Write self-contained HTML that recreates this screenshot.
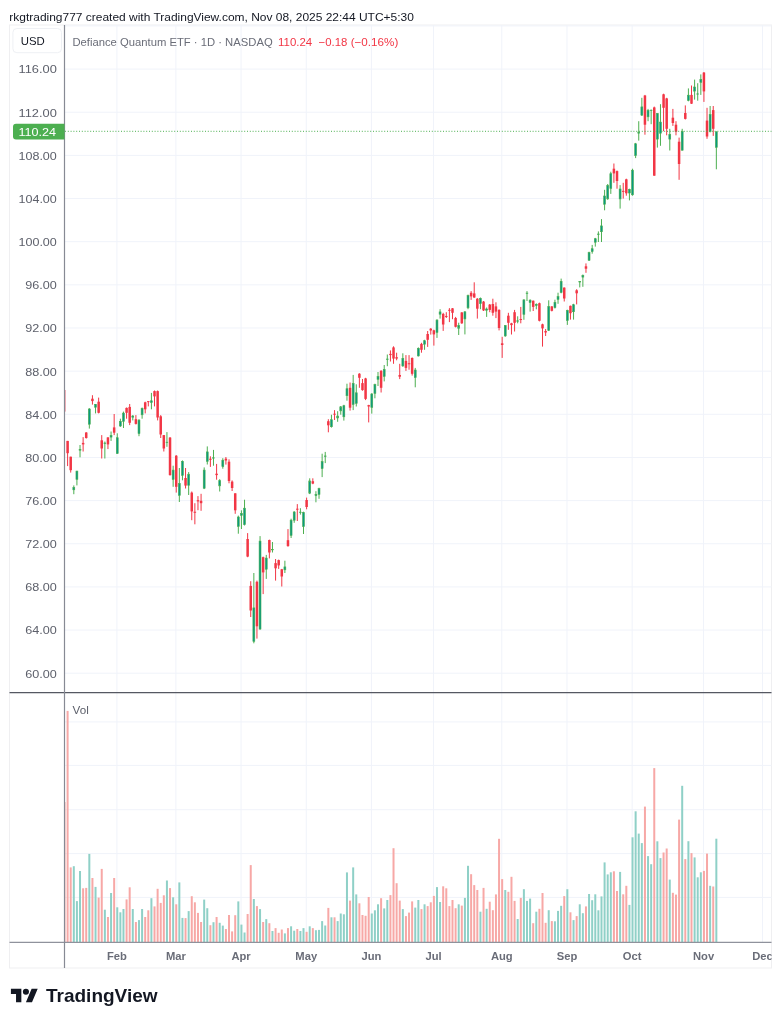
<!DOCTYPE html>
<html><head><meta charset="utf-8"><title>QTUM chart</title>
<style>
html,body{margin:0;padding:0;background:#fff;}
body{width:781px;height:1024px;overflow:hidden;}
svg{display:block;}
text{font-family:"Liberation Sans",Arial,sans-serif;}
</style></head><body>
<svg width="781" height="1024" viewBox="0 0 781 1024">
<defs><clipPath id="pp"><rect x="65" y="25" width="706.5" height="667.7"/></clipPath><clipPath id="vp"><rect x="65" y="692.7" width="706.5" height="249.7"/></clipPath></defs>
<text x="9.3" y="20.6" font-size="11.6" textLength="404.5" lengthAdjust="spacingAndGlyphs" fill="#131722">rkgtrading777 created with TradingView.com, Nov 08, 2025 22:44 UTC+5:30</text>
<rect x="9.5" y="25" width="762" height="943" fill="none" stroke="#efeff1" stroke-width="1"/>
<line x1="64.5" x2="771.5" y1="25.9" y2="25.9" stroke="#f0f3fa" stroke-width="1"/>
<line x1="64.5" x2="771.5" y1="69.07" y2="69.07" stroke="#f0f3fa" stroke-width="1"/>
<line x1="64.5" x2="771.5" y1="112.22" y2="112.22" stroke="#f0f3fa" stroke-width="1"/>
<line x1="64.5" x2="771.5" y1="155.38" y2="155.38" stroke="#f0f3fa" stroke-width="1"/>
<line x1="64.5" x2="771.5" y1="198.53" y2="198.53" stroke="#f0f3fa" stroke-width="1"/>
<line x1="64.5" x2="771.5" y1="241.68" y2="241.68" stroke="#f0f3fa" stroke-width="1"/>
<line x1="64.5" x2="771.5" y1="284.83" y2="284.83" stroke="#f0f3fa" stroke-width="1"/>
<line x1="64.5" x2="771.5" y1="327.98" y2="327.98" stroke="#f0f3fa" stroke-width="1"/>
<line x1="64.5" x2="771.5" y1="371.14" y2="371.14" stroke="#f0f3fa" stroke-width="1"/>
<line x1="64.5" x2="771.5" y1="414.29" y2="414.29" stroke="#f0f3fa" stroke-width="1"/>
<line x1="64.5" x2="771.5" y1="457.44" y2="457.44" stroke="#f0f3fa" stroke-width="1"/>
<line x1="64.5" x2="771.5" y1="500.59" y2="500.59" stroke="#f0f3fa" stroke-width="1"/>
<line x1="64.5" x2="771.5" y1="543.74" y2="543.74" stroke="#f0f3fa" stroke-width="1"/>
<line x1="64.5" x2="771.5" y1="586.9" y2="586.9" stroke="#f0f3fa" stroke-width="1"/>
<line x1="64.5" x2="771.5" y1="630.05" y2="630.05" stroke="#f0f3fa" stroke-width="1"/>
<line x1="64.5" x2="771.5" y1="673.2" y2="673.2" stroke="#f0f3fa" stroke-width="1"/>
<line x1="64.5" x2="771.5" y1="721.9" y2="721.9" stroke="#f0f3fa" stroke-width="1"/>
<line x1="64.5" x2="771.5" y1="765.4" y2="765.4" stroke="#f0f3fa" stroke-width="1"/>
<line x1="64.5" x2="771.5" y1="809.7" y2="809.7" stroke="#f0f3fa" stroke-width="1"/>
<line x1="64.5" x2="771.5" y1="853.6" y2="853.6" stroke="#f0f3fa" stroke-width="1"/>
<line x1="64.5" x2="771.5" y1="897.4" y2="897.4" stroke="#f0f3fa" stroke-width="1"/>
<line x1="116.9" x2="116.9" y1="25" y2="942.4" stroke="#f0f3fa" stroke-width="1"/>
<line x1="175.88" x2="175.88" y1="25" y2="942.4" stroke="#f0f3fa" stroke-width="1"/>
<line x1="241.06" x2="241.06" y1="25" y2="942.4" stroke="#f0f3fa" stroke-width="1"/>
<line x1="306.25" x2="306.25" y1="25" y2="942.4" stroke="#f0f3fa" stroke-width="1"/>
<line x1="371.43" x2="371.43" y1="25" y2="942.4" stroke="#f0f3fa" stroke-width="1"/>
<line x1="433.51" x2="433.51" y1="25" y2="942.4" stroke="#f0f3fa" stroke-width="1"/>
<line x1="501.8" x2="501.8" y1="25" y2="942.4" stroke="#f0f3fa" stroke-width="1"/>
<line x1="566.98" x2="566.98" y1="25" y2="942.4" stroke="#f0f3fa" stroke-width="1"/>
<line x1="632.17" x2="632.17" y1="25" y2="942.4" stroke="#f0f3fa" stroke-width="1"/>
<line x1="703.56" x2="703.56" y1="25" y2="942.4" stroke="#f0f3fa" stroke-width="1"/>
<line x1="762.54" x2="762.54" y1="25" y2="942.4" stroke="#f0f3fa" stroke-width="1"/>
<g clip-path="url(#vp)">
<rect x="63.5" y="802" width="2" height="140.4" fill="#f7a8a6"/><rect x="66.6" y="710.9" width="2" height="231.5" fill="#f7a8a6"/><rect x="69.7" y="867.4" width="2" height="75" fill="#f7a8a6"/><rect x="72.81" y="866.2" width="2" height="76.2" fill="#8fd0c7"/><rect x="75.91" y="901.1" width="2" height="41.3" fill="#8fd0c7"/><rect x="79.02" y="871" width="2" height="71.4" fill="#8fd0c7"/><rect x="82.12" y="888.3" width="2" height="54.1" fill="#f7a8a6"/><rect x="85.22" y="887.9" width="2" height="54.5" fill="#f7a8a6"/><rect x="88.33" y="853.9" width="2" height="88.5" fill="#8fd0c7"/><rect x="91.43" y="878" width="2" height="64.4" fill="#f7a8a6"/><rect x="94.54" y="886.9" width="2" height="55.5" fill="#8fd0c7"/><rect x="97.64" y="897.6" width="2" height="44.8" fill="#f7a8a6"/><rect x="100.74" y="868.9" width="2" height="73.5" fill="#f7a8a6"/><rect x="103.85" y="909.7" width="2" height="32.7" fill="#8fd0c7"/><rect x="106.95" y="917" width="2" height="25.4" fill="#f7a8a6"/><rect x="110.06" y="893" width="2" height="49.4" fill="#8fd0c7"/><rect x="113.16" y="878" width="2" height="64.4" fill="#f7a8a6"/><rect x="116.26" y="907.3" width="2" height="35.1" fill="#8fd0c7"/><rect x="119.37" y="912.3" width="2" height="30.1" fill="#8fd0c7"/><rect x="122.47" y="909" width="2" height="33.4" fill="#8fd0c7"/><rect x="125.58" y="899.4" width="2" height="43" fill="#f7a8a6"/><rect x="128.68" y="887.3" width="2" height="55.1" fill="#f7a8a6"/><rect x="131.78" y="909" width="2" height="33.4" fill="#8fd0c7"/><rect x="134.89" y="922" width="2" height="20.4" fill="#f7a8a6"/><rect x="137.99" y="920.1" width="2" height="22.3" fill="#8fd0c7"/><rect x="141.1" y="909" width="2" height="33.4" fill="#8fd0c7"/><rect x="144.2" y="917" width="2" height="25.4" fill="#f7a8a6"/><rect x="147.3" y="910.3" width="2" height="32.1" fill="#f7a8a6"/><rect x="150.41" y="898.2" width="2" height="44.2" fill="#8fd0c7"/><rect x="153.51" y="906.4" width="2" height="36" fill="#f7a8a6"/><rect x="156.62" y="888.8" width="2" height="53.6" fill="#f7a8a6"/><rect x="159.72" y="902.9" width="2" height="39.5" fill="#f7a8a6"/><rect x="162.82" y="895.3" width="2" height="47.1" fill="#f7a8a6"/><rect x="165.93" y="880.5" width="2" height="61.9" fill="#8fd0c7"/><rect x="169.03" y="888.1" width="2" height="54.3" fill="#f7a8a6"/><rect x="172.14" y="897.3" width="2" height="45.1" fill="#8fd0c7"/><rect x="175.24" y="904.3" width="2" height="38.1" fill="#f7a8a6"/><rect x="178.34" y="882.4" width="2" height="60" fill="#8fd0c7"/><rect x="181.45" y="917.9" width="2" height="24.5" fill="#8fd0c7"/><rect x="184.55" y="918.1" width="2" height="24.3" fill="#f7a8a6"/><rect x="187.66" y="911.1" width="2" height="31.3" fill="#8fd0c7"/><rect x="190.76" y="896.2" width="2" height="46.2" fill="#f7a8a6"/><rect x="193.86" y="902.3" width="2" height="40.1" fill="#f7a8a6"/><rect x="196.97" y="912.9" width="2" height="29.5" fill="#f7a8a6"/><rect x="200.07" y="922" width="2" height="20.4" fill="#f7a8a6"/><rect x="203.18" y="899.6" width="2" height="42.8" fill="#8fd0c7"/><rect x="206.28" y="908.2" width="2" height="34.2" fill="#8fd0c7"/><rect x="209.38" y="925.2" width="2" height="17.2" fill="#f7a8a6"/><rect x="212.49" y="922.2" width="2" height="20.2" fill="#8fd0c7"/><rect x="215.59" y="917" width="2" height="25.4" fill="#f7a8a6"/><rect x="218.7" y="922.8" width="2" height="19.6" fill="#8fd0c7"/><rect x="221.8" y="925.6" width="2" height="16.8" fill="#8fd0c7"/><rect x="224.9" y="929" width="2" height="13.4" fill="#f7a8a6"/><rect x="228.01" y="915" width="2" height="27.4" fill="#f7a8a6"/><rect x="231.11" y="931.4" width="2" height="11" fill="#f7a8a6"/><rect x="234.22" y="915.2" width="2" height="27.2" fill="#f7a8a6"/><rect x="237.32" y="901.4" width="2" height="41" fill="#8fd0c7"/><rect x="240.42" y="924.6" width="2" height="17.8" fill="#8fd0c7"/><rect x="243.53" y="932.5" width="2" height="9.9" fill="#8fd0c7"/><rect x="246.63" y="914" width="2" height="28.4" fill="#f7a8a6"/><rect x="249.74" y="865.1" width="2" height="77.3" fill="#f7a8a6"/><rect x="252.84" y="899" width="2" height="43.4" fill="#8fd0c7"/><rect x="255.94" y="906.1" width="2" height="36.3" fill="#f7a8a6"/><rect x="259.05" y="909.1" width="2" height="33.3" fill="#8fd0c7"/><rect x="262.15" y="922" width="2" height="20.4" fill="#f7a8a6"/><rect x="265.26" y="919.1" width="2" height="23.3" fill="#8fd0c7"/><rect x="268.36" y="923.2" width="2" height="19.2" fill="#f7a8a6"/><rect x="271.46" y="931" width="2" height="11.4" fill="#8fd0c7"/><rect x="274.57" y="928.1" width="2" height="14.3" fill="#f7a8a6"/><rect x="277.67" y="932.8" width="2" height="9.6" fill="#f7a8a6"/><rect x="280.78" y="929.5" width="2" height="12.9" fill="#f7a8a6"/><rect x="283.88" y="933.4" width="2" height="9" fill="#8fd0c7"/><rect x="286.98" y="928.1" width="2" height="14.3" fill="#f7a8a6"/><rect x="290.09" y="926.3" width="2" height="16.1" fill="#8fd0c7"/><rect x="293.19" y="930.7" width="2" height="11.7" fill="#8fd0c7"/><rect x="296.3" y="929" width="2" height="13.4" fill="#f7a8a6"/><rect x="299.4" y="931" width="2" height="11.4" fill="#8fd0c7"/><rect x="302.5" y="928.1" width="2" height="14.3" fill="#8fd0c7"/><rect x="305.61" y="931.8" width="2" height="10.6" fill="#f7a8a6"/><rect x="308.71" y="926.3" width="2" height="16.1" fill="#8fd0c7"/><rect x="311.82" y="928.1" width="2" height="14.3" fill="#f7a8a6"/><rect x="314.92" y="930.2" width="2" height="12.2" fill="#8fd0c7"/><rect x="318.02" y="929.9" width="2" height="12.5" fill="#8fd0c7"/><rect x="321.13" y="921.1" width="2" height="21.3" fill="#8fd0c7"/><rect x="324.23" y="925.5" width="2" height="16.9" fill="#8fd0c7"/><rect x="327.34" y="907.9" width="2" height="34.5" fill="#f7a8a6"/><rect x="330.44" y="917.3" width="2" height="25.1" fill="#8fd0c7"/><rect x="333.54" y="917.3" width="2" height="25.1" fill="#f7a8a6"/><rect x="336.65" y="921.1" width="2" height="21.3" fill="#8fd0c7"/><rect x="339.75" y="913.5" width="2" height="28.9" fill="#8fd0c7"/><rect x="342.86" y="914.3" width="2" height="28.1" fill="#8fd0c7"/><rect x="345.96" y="872.4" width="2" height="70" fill="#8fd0c7"/><rect x="349.06" y="900.6" width="2" height="41.8" fill="#f7a8a6"/><rect x="352.17" y="867.4" width="2" height="75" fill="#8fd0c7"/><rect x="355.27" y="894.4" width="2" height="48" fill="#8fd0c7"/><rect x="358.38" y="903.3" width="2" height="39.1" fill="#f7a8a6"/><rect x="361.48" y="915" width="2" height="27.4" fill="#f7a8a6"/><rect x="364.58" y="915.8" width="2" height="26.6" fill="#f7a8a6"/><rect x="367.69" y="897" width="2" height="45.4" fill="#f7a8a6"/><rect x="370.79" y="913.5" width="2" height="28.9" fill="#8fd0c7"/><rect x="373.9" y="910.3" width="2" height="32.1" fill="#8fd0c7"/><rect x="377" y="904.3" width="2" height="38.1" fill="#8fd0c7"/><rect x="380.1" y="898.2" width="2" height="44.2" fill="#f7a8a6"/><rect x="383.21" y="908.4" width="2" height="34" fill="#8fd0c7"/><rect x="386.31" y="900" width="2" height="42.4" fill="#8fd0c7"/><rect x="389.42" y="895.1" width="2" height="47.3" fill="#f7a8a6"/><rect x="392.52" y="848.2" width="2" height="94.2" fill="#f7a8a6"/><rect x="395.62" y="883.2" width="2" height="59.2" fill="#f7a8a6"/><rect x="398.73" y="900.6" width="2" height="41.8" fill="#f7a8a6"/><rect x="401.83" y="909.1" width="2" height="33.3" fill="#8fd0c7"/><rect x="404.94" y="916.1" width="2" height="26.3" fill="#f7a8a6"/><rect x="408.04" y="912.6" width="2" height="29.8" fill="#f7a8a6"/><rect x="411.14" y="901.4" width="2" height="41" fill="#f7a8a6"/><rect x="414.25" y="907.6" width="2" height="34.8" fill="#8fd0c7"/><rect x="417.35" y="900" width="2" height="42.4" fill="#8fd0c7"/><rect x="420.46" y="909.1" width="2" height="33.3" fill="#f7a8a6"/><rect x="423.56" y="904.3" width="2" height="38.1" fill="#8fd0c7"/><rect x="426.66" y="906.1" width="2" height="36.3" fill="#f7a8a6"/><rect x="429.77" y="902.3" width="2" height="40.1" fill="#f7a8a6"/><rect x="432.87" y="895.9" width="2" height="46.5" fill="#f7a8a6"/><rect x="435.98" y="887.1" width="2" height="55.3" fill="#8fd0c7"/><rect x="439.08" y="902" width="2" height="40.4" fill="#8fd0c7"/><rect x="442.18" y="886.3" width="2" height="56.1" fill="#f7a8a6"/><rect x="445.29" y="888.3" width="2" height="54.1" fill="#f7a8a6"/><rect x="448.39" y="906.1" width="2" height="36.3" fill="#f7a8a6"/><rect x="451.5" y="900" width="2" height="42.4" fill="#f7a8a6"/><rect x="454.6" y="908.2" width="2" height="34.2" fill="#f7a8a6"/><rect x="457.7" y="904.3" width="2" height="38.1" fill="#8fd0c7"/><rect x="460.81" y="905.6" width="2" height="36.8" fill="#f7a8a6"/><rect x="463.91" y="897.9" width="2" height="44.5" fill="#8fd0c7"/><rect x="467.02" y="865.8" width="2" height="76.6" fill="#8fd0c7"/><rect x="470.12" y="874.2" width="2" height="68.2" fill="#f7a8a6"/><rect x="473.22" y="885.1" width="2" height="57.3" fill="#f7a8a6"/><rect x="476.33" y="890" width="2" height="52.4" fill="#f7a8a6"/><rect x="479.43" y="911.7" width="2" height="30.7" fill="#8fd0c7"/><rect x="482.54" y="887.9" width="2" height="54.5" fill="#f7a8a6"/><rect x="485.64" y="908.8" width="2" height="33.6" fill="#8fd0c7"/><rect x="488.74" y="901.7" width="2" height="40.7" fill="#f7a8a6"/><rect x="491.85" y="910.2" width="2" height="32.2" fill="#f7a8a6"/><rect x="494.95" y="894.4" width="2" height="48" fill="#f7a8a6"/><rect x="498.06" y="838.8" width="2" height="103.6" fill="#f7a8a6"/><rect x="501.16" y="879.1" width="2" height="63.3" fill="#f7a8a6"/><rect x="504.26" y="890" width="2" height="52.4" fill="#8fd0c7"/><rect x="507.37" y="891.8" width="2" height="50.6" fill="#f7a8a6"/><rect x="510.47" y="876.8" width="2" height="65.6" fill="#f7a8a6"/><rect x="513.58" y="900.9" width="2" height="41.5" fill="#f7a8a6"/><rect x="516.68" y="919" width="2" height="23.4" fill="#8fd0c7"/><rect x="519.78" y="897.9" width="2" height="44.5" fill="#f7a8a6"/><rect x="522.89" y="889.2" width="2" height="53.2" fill="#8fd0c7"/><rect x="525.99" y="900.9" width="2" height="41.5" fill="#8fd0c7"/><rect x="529.1" y="898.6" width="2" height="43.8" fill="#8fd0c7"/><rect x="532.2" y="923.2" width="2" height="19.2" fill="#f7a8a6"/><rect x="535.3" y="911.7" width="2" height="30.7" fill="#8fd0c7"/><rect x="538.41" y="908.8" width="2" height="33.6" fill="#f7a8a6"/><rect x="541.51" y="893" width="2" height="49.4" fill="#f7a8a6"/><rect x="544.62" y="922.8" width="2" height="19.6" fill="#f7a8a6"/><rect x="547.72" y="910.2" width="2" height="32.2" fill="#8fd0c7"/><rect x="550.82" y="921.1" width="2" height="21.3" fill="#f7a8a6"/><rect x="553.93" y="921.3" width="2" height="21.1" fill="#8fd0c7"/><rect x="557.03" y="910.9" width="2" height="31.5" fill="#8fd0c7"/><rect x="560.14" y="905.8" width="2" height="36.6" fill="#8fd0c7"/><rect x="563.24" y="896.1" width="2" height="46.3" fill="#f7a8a6"/><rect x="566.34" y="889.2" width="2" height="53.2" fill="#8fd0c7"/><rect x="569.45" y="912.3" width="2" height="30.1" fill="#f7a8a6"/><rect x="572.55" y="920.1" width="2" height="22.3" fill="#8fd0c7"/><rect x="575.66" y="916.1" width="2" height="26.3" fill="#f7a8a6"/><rect x="578.76" y="904.3" width="2" height="38.1" fill="#8fd0c7"/><rect x="581.86" y="913.2" width="2" height="29.2" fill="#8fd0c7"/><rect x="584.97" y="906.4" width="2" height="36" fill="#f7a8a6"/><rect x="588.07" y="894" width="2" height="48.4" fill="#8fd0c7"/><rect x="591.18" y="900.2" width="2" height="42.2" fill="#8fd0c7"/><rect x="594.28" y="894.3" width="2" height="48.1" fill="#8fd0c7"/><rect x="597.38" y="910.3" width="2" height="32.1" fill="#8fd0c7"/><rect x="600.49" y="896.4" width="2" height="46" fill="#8fd0c7"/><rect x="603.59" y="862.4" width="2" height="80" fill="#8fd0c7"/><rect x="606.7" y="874.4" width="2" height="68" fill="#8fd0c7"/><rect x="609.8" y="872.3" width="2" height="70.1" fill="#8fd0c7"/><rect x="612.9" y="871.3" width="2" height="71.1" fill="#f7a8a6"/><rect x="616.01" y="891" width="2" height="51.4" fill="#f7a8a6"/><rect x="619.11" y="871.9" width="2" height="70.5" fill="#8fd0c7"/><rect x="622.22" y="894.3" width="2" height="48.1" fill="#f7a8a6"/><rect x="625.32" y="885.8" width="2" height="56.6" fill="#f7a8a6"/><rect x="628.42" y="904.9" width="2" height="37.5" fill="#8fd0c7"/><rect x="631.53" y="837.3" width="2" height="105.1" fill="#8fd0c7"/><rect x="634.63" y="811.3" width="2" height="131.1" fill="#8fd0c7"/><rect x="637.74" y="833.6" width="2" height="108.8" fill="#8fd0c7"/><rect x="640.84" y="843.1" width="2" height="99.3" fill="#8fd0c7"/><rect x="643.94" y="806.6" width="2" height="135.8" fill="#f7a8a6"/><rect x="647.05" y="856.1" width="2" height="86.3" fill="#8fd0c7"/><rect x="650.15" y="864.2" width="2" height="78.2" fill="#8fd0c7"/><rect x="653.26" y="768.1" width="2" height="174.3" fill="#f7a8a6"/><rect x="656.36" y="841.3" width="2" height="101.1" fill="#8fd0c7"/><rect x="659.46" y="858.1" width="2" height="84.3" fill="#8fd0c7"/><rect x="662.57" y="852.5" width="2" height="89.9" fill="#f7a8a6"/><rect x="665.67" y="848.5" width="2" height="93.9" fill="#f7a8a6"/><rect x="668.78" y="879.6" width="2" height="62.8" fill="#8fd0c7"/><rect x="671.88" y="892.8" width="2" height="49.6" fill="#f7a8a6"/><rect x="674.98" y="894.6" width="2" height="47.8" fill="#f7a8a6"/><rect x="678.09" y="819.6" width="2" height="122.8" fill="#f7a8a6"/><rect x="681.19" y="785.8" width="2" height="156.6" fill="#8fd0c7"/><rect x="684.3" y="859.1" width="2" height="83.3" fill="#f7a8a6"/><rect x="687.4" y="841.2" width="2" height="101.2" fill="#8fd0c7"/><rect x="690.5" y="853.1" width="2" height="89.3" fill="#f7a8a6"/><rect x="693.61" y="857.4" width="2" height="85" fill="#8fd0c7"/><rect x="696.71" y="877.3" width="2" height="65.1" fill="#8fd0c7"/><rect x="699.82" y="872.3" width="2" height="70.1" fill="#8fd0c7"/><rect x="702.92" y="870.9" width="2" height="71.5" fill="#f7a8a6"/><rect x="706.02" y="853.6" width="2" height="88.8" fill="#f7a8a6"/><rect x="709.13" y="885.8" width="2" height="56.6" fill="#8fd0c7"/><rect x="712.23" y="886.5" width="2" height="55.9" fill="#f7a8a6"/><rect x="715.34" y="838.7" width="2" height="103.7" fill="#8fd0c7"/>
</g>
<g clip-path="url(#pp)">
<rect x="64" y="390" width="1" height="21.6" fill="#f59aa3"/><rect x="63.25" y="390" width="2.5" height="21.6" fill="#f59aa3"/>
<rect x="67.1" y="440.9" width="1" height="25.2" fill="#f23645"/><rect x="66.35" y="440.9" width="2.5" height="12.3" fill="#f23645"/>
<rect x="70.2" y="456.7" width="1" height="15.9" fill="#f23645"/><rect x="69.45" y="456.7" width="2.5" height="13.5" fill="#f23645"/>
<rect x="73.31" y="485.4" width="1" height="8.8" fill="#4caf50"/><rect x="72.86" y="487.5" width="1.9" height="2.3" fill="#089981" stroke="#4caf50" stroke-width="0.6"/>
<rect x="76.41" y="470.8" width="1" height="14.6" fill="#4caf50"/><rect x="75.96" y="471.1" width="1.9" height="8.2" fill="#089981" stroke="#4caf50" stroke-width="0.6"/>
<rect x="79.52" y="445" width="1" height="12.3" fill="#4caf50"/><rect x="79.07" y="449.4" width="1.9" height="0.8" fill="#089981" stroke="#4caf50" stroke-width="0.6"/>
<rect x="82.62" y="437.1" width="1" height="14.4" fill="#f23645"/><rect x="81.87" y="442.9" width="2.5" height="1.5" fill="#f23645"/>
<rect x="85.72" y="432.1" width="1" height="6.5" fill="#f23645"/><rect x="84.97" y="432.5" width="2.5" height="5.5" fill="#f23645"/>
<rect x="88.83" y="408.1" width="1" height="20.5" fill="#4caf50"/><rect x="88.38" y="409" width="1.9" height="15.2" fill="#089981" stroke="#4caf50" stroke-width="0.6"/>
<rect x="91.93" y="395.2" width="1" height="9.4" fill="#f23645"/><rect x="91.18" y="398.7" width="2.5" height="2.4" fill="#f23645"/>
<rect x="95.04" y="404" width="1" height="9.4" fill="#4caf50"/><rect x="94.59" y="404.3" width="1.9" height="2.9" fill="#089981" stroke="#4caf50" stroke-width="0.6"/>
<rect x="98.14" y="397.6" width="1" height="15.8" fill="#f23645"/><rect x="97.39" y="401.7" width="2.5" height="11.1" fill="#f23645"/>
<rect x="101.24" y="435.1" width="1" height="23.4" fill="#f23645"/><rect x="100.49" y="440.3" width="2.5" height="8.2" fill="#f23645"/>
<rect x="104.35" y="441.5" width="1" height="17" fill="#4caf50"/><rect x="103.9" y="443" width="1.9" height="0.5" fill="#089981" stroke="#4caf50" stroke-width="0.6"/>
<rect x="107.45" y="437.2" width="1" height="11.9" fill="#f23645"/><rect x="106.7" y="437.4" width="2.5" height="7" fill="#f23645"/>
<rect x="110.56" y="431.5" width="1" height="9.4" fill="#4caf50"/><rect x="110.11" y="435.4" width="1.9" height="1.7" fill="#089981" stroke="#4caf50" stroke-width="0.6"/>
<rect x="113.66" y="414" width="1" height="21.1" fill="#f23645"/><rect x="112.91" y="427.4" width="2.5" height="5.3" fill="#f23645"/>
<rect x="116.76" y="433.3" width="1" height="20.5" fill="#4caf50"/><rect x="116.31" y="437.7" width="1.9" height="15.8" fill="#089981" stroke="#4caf50" stroke-width="0.6"/>
<rect x="119.87" y="418.7" width="1" height="8.2" fill="#4caf50"/><rect x="119.42" y="421.3" width="1.9" height="4.7" fill="#089981" stroke="#4caf50" stroke-width="0.6"/>
<rect x="122.97" y="411.6" width="1" height="16.4" fill="#4caf50"/><rect x="122.52" y="413.1" width="1.9" height="8.2" fill="#089981" stroke="#4caf50" stroke-width="0.6"/>
<rect x="126.08" y="407.5" width="1" height="11.2" fill="#f23645"/><rect x="125.33" y="407.9" width="2.5" height="4.9" fill="#f23645"/>
<rect x="129.18" y="404" width="1" height="21.1" fill="#f23645"/><rect x="128.43" y="406.9" width="2.5" height="15.9" fill="#f23645"/>
<rect x="132.28" y="415.1" width="1" height="5.3" fill="#4caf50"/><rect x="131.83" y="416" width="1.9" height="1.2" fill="#089981" stroke="#4caf50" stroke-width="0.6"/>
<rect x="135.39" y="415.1" width="1" height="9.4" fill="#f23645"/><rect x="134.64" y="419.2" width="2.5" height="4.7" fill="#f23645"/>
<rect x="138.49" y="419.2" width="1" height="17" fill="#4caf50"/><rect x="138.04" y="420.1" width="1.9" height="13.5" fill="#089981" stroke="#4caf50" stroke-width="0.6"/>
<rect x="141.6" y="407.5" width="1" height="11.2" fill="#4caf50"/><rect x="141.15" y="408.4" width="1.9" height="6.4" fill="#089981" stroke="#4caf50" stroke-width="0.6"/>
<rect x="144.7" y="401.7" width="1" height="11.7" fill="#f23645"/><rect x="143.95" y="402.3" width="2.5" height="7" fill="#f23645"/>
<rect x="147.8" y="401.1" width="1" height="5.3" fill="#f23645"/><rect x="147.05" y="401.15" width="2.5" height="1" fill="#f23645"/>
<rect x="150.91" y="392.9" width="1" height="16.4" fill="#4caf50"/><rect x="150.46" y="400.8" width="1.9" height="1.7" fill="#089981" stroke="#4caf50" stroke-width="0.6"/>
<rect x="154.01" y="390.5" width="1" height="15.9" fill="#f23645"/><rect x="153.26" y="391.1" width="2.5" height="5.3" fill="#f23645"/>
<rect x="157.12" y="390.5" width="1" height="29.9" fill="#f23645"/><rect x="156.37" y="391.1" width="2.5" height="26.4" fill="#f23645"/>
<rect x="160.22" y="415.1" width="1" height="22.9" fill="#f23645"/><rect x="159.47" y="416.3" width="2.5" height="18.2" fill="#f23645"/>
<rect x="163.32" y="435.1" width="1" height="16.4" fill="#f23645"/><rect x="162.57" y="435.1" width="2.5" height="13.4" fill="#f23645"/>
<rect x="166.43" y="432.1" width="1" height="14.7" fill="#4caf50"/><rect x="165.98" y="442.2" width="1.9" height="0.4" fill="#089981" stroke="#4caf50" stroke-width="0.6"/>
<rect x="169.53" y="437" width="1" height="38.6" fill="#f23645"/><rect x="168.78" y="437.6" width="2.5" height="37.5" fill="#f23645"/>
<rect x="172.64" y="465.7" width="1" height="21.1" fill="#4caf50"/><rect x="172.19" y="470.1" width="1.9" height="9.3" fill="#089981" stroke="#4caf50" stroke-width="0.6"/>
<rect x="175.74" y="455.1" width="1" height="37.5" fill="#f23645"/><rect x="174.99" y="455.7" width="2.5" height="31.1" fill="#f23645"/>
<rect x="178.84" y="468" width="1" height="34" fill="#4caf50"/><rect x="178.39" y="483.6" width="1.9" height="11.7" fill="#089981" stroke="#4caf50" stroke-width="0.6"/>
<rect x="181.95" y="460.4" width="1" height="19.9" fill="#4caf50"/><rect x="181.5" y="461.3" width="1.9" height="14" fill="#089981" stroke="#4caf50" stroke-width="0.6"/>
<rect x="185.05" y="468" width="1" height="20.5" fill="#f23645"/><rect x="184.3" y="478" width="2.5" height="7.6" fill="#f23645"/>
<rect x="188.16" y="472.1" width="1" height="22.9" fill="#4caf50"/><rect x="187.71" y="474.2" width="1.9" height="11.1" fill="#089981" stroke="#4caf50" stroke-width="0.6"/>
<rect x="191.26" y="491.5" width="1" height="28.7" fill="#f23645"/><rect x="190.51" y="492.6" width="2.5" height="18.8" fill="#f23645"/>
<rect x="194.36" y="503.2" width="1" height="21.1" fill="#f23645"/><rect x="193.61" y="511.75" width="2.5" height="1" fill="#f23645"/>
<rect x="197.47" y="496.1" width="1" height="14.1" fill="#f23645"/><rect x="196.72" y="500.2" width="2.5" height="1.2" fill="#f23645"/>
<rect x="200.57" y="493.8" width="1" height="17" fill="#f23645"/><rect x="199.82" y="500.8" width="2.5" height="2.4" fill="#f23645"/>
<rect x="203.68" y="467.4" width="1" height="21.7" fill="#4caf50"/><rect x="203.23" y="470.1" width="1.9" height="18.1" fill="#089981" stroke="#4caf50" stroke-width="0.6"/>
<rect x="206.78" y="446.4" width="1" height="18.1" fill="#4caf50"/><rect x="206.33" y="451.9" width="1.9" height="9.4" fill="#089981" stroke="#4caf50" stroke-width="0.6"/>
<rect x="209.88" y="456.3" width="1" height="10.6" fill="#f23645"/><rect x="209.13" y="458.7" width="2.5" height="1.1" fill="#f23645"/>
<rect x="212.99" y="449.9" width="1" height="15.8" fill="#4caf50"/><rect x="212.54" y="457.75" width="1.9" height="0.4" fill="#089981" stroke="#4caf50" stroke-width="0.6"/>
<rect x="216.09" y="463.9" width="1" height="15.8" fill="#f23645"/><rect x="215.34" y="473.7" width="2.5" height="1.4" fill="#f23645"/>
<rect x="219.2" y="479.2" width="1" height="12.3" fill="#4caf50"/><rect x="218.75" y="480.6" width="1.9" height="5.3" fill="#089981" stroke="#4caf50" stroke-width="0.6"/>
<rect x="222.3" y="458.2" width="1" height="10.5" fill="#4caf50"/><rect x="221.85" y="460.2" width="1.9" height="6.4" fill="#089981" stroke="#4caf50" stroke-width="0.6"/>
<rect x="225.4" y="457" width="1" height="7.6" fill="#f23645"/><rect x="224.65" y="458.7" width="2.5" height="1.8" fill="#f23645"/>
<rect x="228.51" y="459.3" width="1" height="24" fill="#f23645"/><rect x="227.76" y="461.7" width="2.5" height="19.3" fill="#f23645"/>
<rect x="231.61" y="480.4" width="1" height="10.6" fill="#f23645"/><rect x="230.86" y="481.6" width="2.5" height="6.4" fill="#f23645"/>
<rect x="234.72" y="493.3" width="1" height="20.5" fill="#f23645"/><rect x="233.97" y="493.3" width="2.5" height="17" fill="#f23645"/>
<rect x="237.82" y="515.6" width="1" height="18.1" fill="#4caf50"/><rect x="237.37" y="517" width="1.9" height="9.4" fill="#089981" stroke="#4caf50" stroke-width="0.6"/>
<rect x="240.92" y="510.3" width="1" height="18.7" fill="#4caf50"/><rect x="240.47" y="513.5" width="1.9" height="1.8" fill="#089981" stroke="#4caf50" stroke-width="0.6"/>
<rect x="244.03" y="499.7" width="1" height="25.8" fill="#4caf50"/><rect x="243.58" y="508.2" width="1.9" height="16.4" fill="#089981" stroke="#4caf50" stroke-width="0.6"/>
<rect x="247.13" y="533.1" width="1" height="24.1" fill="#f23645"/><rect x="246.38" y="539" width="2.5" height="17.6" fill="#f23645"/>
<rect x="250.24" y="581.2" width="1" height="35.8" fill="#f23645"/><rect x="249.49" y="585.9" width="2.5" height="24.6" fill="#f23645"/>
<rect x="253.34" y="573" width="1" height="70.3" fill="#4caf50"/><rect x="252.89" y="607.9" width="1.9" height="33.4" fill="#089981" stroke="#4caf50" stroke-width="0.6"/>
<rect x="256.44" y="580.6" width="1" height="58" fill="#f23645"/><rect x="255.69" y="581.8" width="2.5" height="44.5" fill="#f23645"/>
<rect x="259.55" y="536.1" width="1" height="93.8" fill="#4caf50"/><rect x="259.1" y="541.1" width="1.9" height="87.9" fill="#089981" stroke="#4caf50" stroke-width="0.6"/>
<rect x="262.65" y="556.6" width="1" height="37.5" fill="#f23645"/><rect x="261.9" y="557.2" width="2.5" height="15.2" fill="#f23645"/>
<rect x="265.76" y="554.9" width="1" height="24" fill="#4caf50"/><rect x="265.31" y="558.1" width="1.9" height="11.1" fill="#089981" stroke="#4caf50" stroke-width="0.6"/>
<rect x="268.86" y="539.6" width="1" height="18.8" fill="#f23645"/><rect x="268.11" y="540" width="2.5" height="12.5" fill="#f23645"/>
<rect x="271.96" y="542" width="1" height="10.5" fill="#4caf50"/><rect x="271.51" y="549.3" width="1.9" height="0.6" fill="#089981" stroke="#4caf50" stroke-width="0.6"/>
<rect x="275.07" y="559" width="1" height="21.6" fill="#f23645"/><rect x="274.32" y="563.1" width="2.5" height="5.2" fill="#f23645"/>
<rect x="278.17" y="559.6" width="1" height="9.3" fill="#f23645"/><rect x="277.42" y="560.1" width="2.5" height="5.3" fill="#f23645"/>
<rect x="281.28" y="568.9" width="1" height="17.6" fill="#f23645"/><rect x="280.53" y="569.3" width="2.5" height="7.2" fill="#f23645"/>
<rect x="284.38" y="560.7" width="1" height="12.3" fill="#4caf50"/><rect x="283.93" y="566.9" width="1.9" height="2.9" fill="#089981" stroke="#4caf50" stroke-width="0.6"/>
<rect x="287.48" y="529.1" width="1" height="17.6" fill="#f23645"/><rect x="286.73" y="540.2" width="2.5" height="5.9" fill="#f23645"/>
<rect x="290.59" y="518.7" width="1" height="19.3" fill="#4caf50"/><rect x="290.14" y="520.2" width="1.9" height="15.2" fill="#089981" stroke="#4caf50" stroke-width="0.6"/>
<rect x="293.69" y="511.1" width="1" height="11.7" fill="#4caf50"/><rect x="293.24" y="512" width="1.9" height="8.2" fill="#089981" stroke="#4caf50" stroke-width="0.6"/>
<rect x="296.8" y="504.1" width="1" height="16.9" fill="#f23645"/><rect x="296.05" y="508.7" width="2.5" height="1" fill="#f23645"/>
<rect x="299.9" y="508.2" width="1" height="6.4" fill="#4caf50"/><rect x="299.45" y="512.1" width="1.9" height="0.4" fill="#089981" stroke="#4caf50" stroke-width="0.6"/>
<rect x="303" y="511.7" width="1" height="22.3" fill="#4caf50"/><rect x="302.55" y="512.6" width="1.9" height="14" fill="#089981" stroke="#4caf50" stroke-width="0.6"/>
<rect x="306.11" y="497.6" width="1" height="11.7" fill="#f23645"/><rect x="305.36" y="500" width="2.5" height="7" fill="#f23645"/>
<rect x="309.21" y="478.3" width="1" height="15.8" fill="#4caf50"/><rect x="308.76" y="480.9" width="1.9" height="12.3" fill="#089981" stroke="#4caf50" stroke-width="0.6"/>
<rect x="312.32" y="478.3" width="1" height="5.9" fill="#f23645"/><rect x="311.57" y="481.2" width="2.5" height="2.4" fill="#f23645"/>
<rect x="315.42" y="491.2" width="1" height="11.1" fill="#4caf50"/><rect x="314.97" y="494.4" width="1.9" height="1.2" fill="#089981" stroke="#4caf50" stroke-width="0.6"/>
<rect x="318.52" y="487.7" width="1" height="11.1" fill="#4caf50"/><rect x="318.07" y="488.6" width="1.9" height="5.8" fill="#089981" stroke="#4caf50" stroke-width="0.6"/>
<rect x="321.63" y="453.7" width="1" height="23.4" fill="#4caf50"/><rect x="321.18" y="461.6" width="1.9" height="7" fill="#089981" stroke="#4caf50" stroke-width="0.6"/>
<rect x="324.73" y="451.9" width="1" height="11.2" fill="#4caf50"/><rect x="324.28" y="455.95" width="1.9" height="0.4" fill="#089981" stroke="#4caf50" stroke-width="0.6"/>
<rect x="327.84" y="419.2" width="1" height="13.1" fill="#f23645"/><rect x="327.09" y="421.2" width="2.5" height="4.1" fill="#f23645"/>
<rect x="330.94" y="414.7" width="1" height="12.9" fill="#4caf50"/><rect x="330.49" y="419.7" width="1.9" height="7" fill="#089981" stroke="#4caf50" stroke-width="0.6"/>
<rect x="334.04" y="410.1" width="1" height="9.9" fill="#f23645"/><rect x="333.29" y="413.7" width="2.5" height="1" fill="#f23645"/>
<rect x="337.15" y="411.2" width="1" height="10.6" fill="#4caf50"/><rect x="336.7" y="416" width="1.9" height="2" fill="#089981" stroke="#4caf50" stroke-width="0.6"/>
<rect x="340.25" y="406" width="1" height="8.7" fill="#4caf50"/><rect x="339.8" y="406.8" width="1.9" height="4.1" fill="#089981" stroke="#4caf50" stroke-width="0.6"/>
<rect x="343.36" y="404.8" width="1" height="15.8" fill="#4caf50"/><rect x="342.91" y="405.7" width="1.9" height="11.1" fill="#089981" stroke="#4caf50" stroke-width="0.6"/>
<rect x="346.46" y="383.7" width="1" height="17" fill="#4caf50"/><rect x="346.01" y="388.7" width="1.9" height="7" fill="#089981" stroke="#4caf50" stroke-width="0.6"/>
<rect x="349.56" y="382.5" width="1" height="28.1" fill="#f23645"/><rect x="348.81" y="387.8" width="2.5" height="19.9" fill="#f23645"/>
<rect x="352.67" y="374.9" width="1" height="35.2" fill="#4caf50"/><rect x="352.22" y="383.4" width="1.9" height="21.1" fill="#089981" stroke="#4caf50" stroke-width="0.6"/>
<rect x="355.77" y="384.3" width="1" height="22.2" fill="#4caf50"/><rect x="355.32" y="392.8" width="1.9" height="10.5" fill="#089981" stroke="#4caf50" stroke-width="0.6"/>
<rect x="358.88" y="373.2" width="1" height="14.6" fill="#f23645"/><rect x="358.13" y="373.7" width="2.5" height="4.1" fill="#f23645"/>
<rect x="361.98" y="379" width="1" height="11.7" fill="#f23645"/><rect x="361.23" y="383.1" width="2.5" height="7" fill="#f23645"/>
<rect x="365.08" y="377.8" width="1" height="22.3" fill="#f23645"/><rect x="364.33" y="378.4" width="2.5" height="20.5" fill="#f23645"/>
<rect x="368.19" y="404.8" width="1" height="17.6" fill="#f23645"/><rect x="367.44" y="405.1" width="2.5" height="1.4" fill="#f23645"/>
<rect x="371.29" y="393.1" width="1" height="20.5" fill="#4caf50"/><rect x="370.84" y="394" width="1.9" height="13.4" fill="#089981" stroke="#4caf50" stroke-width="0.6"/>
<rect x="374.4" y="383.7" width="1" height="14.6" fill="#4caf50"/><rect x="373.95" y="384.6" width="1.9" height="8.8" fill="#089981" stroke="#4caf50" stroke-width="0.6"/>
<rect x="377.5" y="372" width="1" height="14" fill="#4caf50"/><rect x="377.05" y="376.4" width="1.9" height="2.9" fill="#089981" stroke="#4caf50" stroke-width="0.6"/>
<rect x="380.6" y="370.2" width="1" height="22.3" fill="#f23645"/><rect x="379.85" y="370.8" width="2.5" height="17" fill="#f23645"/>
<rect x="383.71" y="365" width="1" height="16.4" fill="#4caf50"/><rect x="383.26" y="369.4" width="1.9" height="7" fill="#089981" stroke="#4caf50" stroke-width="0.6"/>
<rect x="386.81" y="354.5" width="1" height="11.7" fill="#4caf50"/><rect x="386.36" y="359" width="1.9" height="0.4" fill="#089981" stroke="#4caf50" stroke-width="0.6"/>
<rect x="389.92" y="350.4" width="1" height="11.1" fill="#f23645"/><rect x="389.17" y="353.9" width="2.5" height="1.2" fill="#f23645"/>
<rect x="393.02" y="346.3" width="1" height="17.5" fill="#f23645"/><rect x="392.27" y="347.4" width="2.5" height="11.2" fill="#f23645"/>
<rect x="396.12" y="352.7" width="1" height="7.6" fill="#f23645"/><rect x="395.37" y="357.2" width="2.5" height="1.4" fill="#f23645"/>
<rect x="399.23" y="363.8" width="1" height="15.3" fill="#f23645"/><rect x="398.48" y="375" width="2.5" height="1.7" fill="#f23645"/>
<rect x="402.33" y="353.3" width="1" height="13.5" fill="#4caf50"/><rect x="401.88" y="358.3" width="1.9" height="7.6" fill="#089981" stroke="#4caf50" stroke-width="0.6"/>
<rect x="405.44" y="355.1" width="1" height="15.8" fill="#f23645"/><rect x="404.69" y="360.9" width="2.5" height="7" fill="#f23645"/>
<rect x="408.54" y="355.1" width="1" height="14.6" fill="#f23645"/><rect x="407.79" y="363.25" width="2.5" height="1" fill="#f23645"/>
<rect x="411.64" y="357.4" width="1" height="18.2" fill="#f23645"/><rect x="410.89" y="358" width="2.5" height="15.8" fill="#f23645"/>
<rect x="414.75" y="367.9" width="1" height="19.4" fill="#4caf50"/><rect x="414.3" y="370" width="1.9" height="7.6" fill="#089981" stroke="#4caf50" stroke-width="0.6"/>
<rect x="417.85" y="347.4" width="1" height="9.1" fill="#4caf50"/><rect x="417.4" y="348.3" width="1.9" height="7.6" fill="#089981" stroke="#4caf50" stroke-width="0.6"/>
<rect x="420.96" y="342.8" width="1" height="9.9" fill="#f23645"/><rect x="420.21" y="343.9" width="2.5" height="5.9" fill="#f23645"/>
<rect x="424.06" y="339.8" width="1" height="10" fill="#4caf50"/><rect x="423.61" y="340.7" width="1.9" height="3.5" fill="#089981" stroke="#4caf50" stroke-width="0.6"/>
<rect x="427.16" y="331" width="1" height="15.9" fill="#f23645"/><rect x="426.41" y="334" width="2.5" height="5.8" fill="#f23645"/>
<rect x="430.27" y="328.1" width="1" height="6.5" fill="#f23645"/><rect x="429.52" y="328.7" width="2.5" height="1.8" fill="#f23645"/>
<rect x="433.37" y="329.7" width="1" height="15.9" fill="#f23645"/><rect x="432.62" y="330.3" width="2.5" height="4.1" fill="#f23645"/>
<rect x="436.48" y="319.2" width="1" height="18.7" fill="#4caf50"/><rect x="436.03" y="320.1" width="1.9" height="12.3" fill="#089981" stroke="#4caf50" stroke-width="0.6"/>
<rect x="439.58" y="309.2" width="1" height="9.4" fill="#4caf50"/><rect x="439.13" y="311.9" width="1.9" height="2.3" fill="#089981" stroke="#4caf50" stroke-width="0.6"/>
<rect x="442.68" y="312.8" width="1" height="18.1" fill="#f23645"/><rect x="441.93" y="313.9" width="2.5" height="10.6" fill="#f23645"/>
<rect x="445.79" y="312.2" width="1" height="5.8" fill="#f23645"/><rect x="445.04" y="315.95" width="2.5" height="1" fill="#f23645"/>
<rect x="448.89" y="308.1" width="1" height="14" fill="#f23645"/><rect x="448.14" y="309.8" width="2.5" height="1" fill="#f23645"/>
<rect x="452" y="308.1" width="1" height="11.1" fill="#f23645"/><rect x="451.25" y="308.3" width="2.5" height="4.5" fill="#f23645"/>
<rect x="455.1" y="316.9" width="1" height="10.5" fill="#f23645"/><rect x="454.35" y="318" width="2.5" height="8.8" fill="#f23645"/>
<rect x="458.2" y="322.7" width="1" height="12.3" fill="#4caf50"/><rect x="457.75" y="325.4" width="1.9" height="2.9" fill="#089981" stroke="#4caf50" stroke-width="0.6"/>
<rect x="461.31" y="312.2" width="1" height="11.7" fill="#f23645"/><rect x="460.56" y="312.4" width="2.5" height="10.9" fill="#f23645"/>
<rect x="464.41" y="311" width="1" height="23.4" fill="#4caf50"/><rect x="463.96" y="311.9" width="1.9" height="7" fill="#089981" stroke="#4caf50" stroke-width="0.6"/>
<rect x="467.52" y="294.6" width="1" height="14.6" fill="#4caf50"/><rect x="467.07" y="295.5" width="1.9" height="12.3" fill="#089981" stroke="#4caf50" stroke-width="0.6"/>
<rect x="470.62" y="291.1" width="1" height="8.8" fill="#f23645"/><rect x="469.87" y="292.8" width="2.5" height="3.6" fill="#f23645"/>
<rect x="473.72" y="282.3" width="1" height="15.6" fill="#f23645"/><rect x="472.97" y="293.4" width="2.5" height="4.1" fill="#f23645"/>
<rect x="476.83" y="298.1" width="1" height="20.5" fill="#f23645"/><rect x="476.08" y="298.7" width="2.5" height="10" fill="#f23645"/>
<rect x="479.93" y="297.5" width="1" height="11.7" fill="#4caf50"/><rect x="479.48" y="298.4" width="1.9" height="5.3" fill="#089981" stroke="#4caf50" stroke-width="0.6"/>
<rect x="483.04" y="301" width="1" height="10" fill="#f23645"/><rect x="482.29" y="301.6" width="2.5" height="8.8" fill="#f23645"/>
<rect x="486.14" y="307.5" width="1" height="9.4" fill="#4caf50"/><rect x="485.69" y="309" width="1.9" height="1.2" fill="#089981" stroke="#4caf50" stroke-width="0.6"/>
<rect x="489.24" y="304" width="1" height="8.2" fill="#f23645"/><rect x="488.49" y="304.6" width="2.5" height="5.3" fill="#f23645"/>
<rect x="492.35" y="298.7" width="1" height="17" fill="#f23645"/><rect x="491.6" y="304" width="2.5" height="8.8" fill="#f23645"/>
<rect x="495.45" y="302.3" width="1" height="15.8" fill="#f23645"/><rect x="494.7" y="306.4" width="2.5" height="5.2" fill="#f23645"/>
<rect x="498.56" y="309.3" width="1" height="21.1" fill="#f23645"/><rect x="497.81" y="309.9" width="2.5" height="18.1" fill="#f23645"/>
<rect x="501.66" y="336.8" width="1" height="21.1" fill="#f23645"/><rect x="500.91" y="343.3" width="2.5" height="1.7" fill="#f23645"/>
<rect x="504.76" y="325.1" width="1" height="11.7" fill="#4caf50"/><rect x="504.31" y="325.6" width="1.9" height="10.3" fill="#089981" stroke="#4caf50" stroke-width="0.6"/>
<rect x="507.87" y="312.8" width="1" height="17" fill="#f23645"/><rect x="507.12" y="315.7" width="2.5" height="7.1" fill="#f23645"/>
<rect x="510.97" y="322.8" width="1" height="11.7" fill="#f23645"/><rect x="510.22" y="323.3" width="2.5" height="1.8" fill="#f23645"/>
<rect x="514.08" y="309.9" width="1" height="21.6" fill="#f23645"/><rect x="513.33" y="312.2" width="2.5" height="10.6" fill="#f23645"/>
<rect x="517.18" y="316.3" width="1" height="7" fill="#4caf50"/><rect x="516.73" y="320.7" width="1.9" height="0.6" fill="#089981" stroke="#4caf50" stroke-width="0.6"/>
<rect x="520.28" y="306.9" width="1" height="16.4" fill="#f23645"/><rect x="519.53" y="319" width="2.5" height="1" fill="#f23645"/>
<rect x="523.39" y="299.3" width="1" height="20.5" fill="#4caf50"/><rect x="522.94" y="299.9" width="1.9" height="14.4" fill="#089981" stroke="#4caf50" stroke-width="0.6"/>
<rect x="526.49" y="291.1" width="1" height="9.9" fill="#4caf50"/><rect x="526.04" y="293.05" width="1.9" height="0.4" fill="#089981" stroke="#4caf50" stroke-width="0.6"/>
<rect x="529.6" y="299.3" width="1" height="12.3" fill="#4caf50"/><rect x="529.15" y="300.2" width="1.9" height="2.3" fill="#089981" stroke="#4caf50" stroke-width="0.6"/>
<rect x="532.7" y="300.5" width="1" height="10.5" fill="#f23645"/><rect x="531.95" y="300.7" width="2.5" height="6.2" fill="#f23645"/>
<rect x="535.8" y="303.4" width="1" height="5.9" fill="#4caf50"/><rect x="535.35" y="304.3" width="1.9" height="1.2" fill="#089981" stroke="#4caf50" stroke-width="0.6"/>
<rect x="538.91" y="302.6" width="1" height="18.8" fill="#f23645"/><rect x="538.16" y="303.2" width="2.5" height="17.6" fill="#f23645"/>
<rect x="542.01" y="323.7" width="1" height="22.9" fill="#f23645"/><rect x="541.26" y="324.3" width="2.5" height="4.1" fill="#f23645"/>
<rect x="545.12" y="329" width="1" height="7" fill="#f23645"/><rect x="544.37" y="331" width="2.5" height="1.5" fill="#f23645"/>
<rect x="548.22" y="300.3" width="1" height="30.7" fill="#4caf50"/><rect x="547.77" y="306.4" width="1.9" height="24" fill="#089981" stroke="#4caf50" stroke-width="0.6"/>
<rect x="551.32" y="306.1" width="1" height="5.3" fill="#f23645"/><rect x="550.57" y="306.4" width="2.5" height="4.4" fill="#f23645"/>
<rect x="554.43" y="299.7" width="1" height="8.8" fill="#4caf50"/><rect x="553.98" y="302.3" width="1.9" height="5.3" fill="#089981" stroke="#4caf50" stroke-width="0.6"/>
<rect x="557.53" y="292.7" width="1" height="11.1" fill="#4caf50"/><rect x="557.08" y="296.5" width="1.9" height="2.9" fill="#089981" stroke="#4caf50" stroke-width="0.6"/>
<rect x="560.64" y="278.6" width="1" height="14.7" fill="#4caf50"/><rect x="560.19" y="281.3" width="1.9" height="11.1" fill="#089981" stroke="#4caf50" stroke-width="0.6"/>
<rect x="563.74" y="287.4" width="1" height="14.1" fill="#f23645"/><rect x="562.99" y="287.6" width="2.5" height="10.9" fill="#f23645"/>
<rect x="566.84" y="309.7" width="1" height="15.2" fill="#4caf50"/><rect x="566.39" y="310.5" width="1.9" height="10" fill="#089981" stroke="#4caf50" stroke-width="0.6"/>
<rect x="569.95" y="305.6" width="1" height="14" fill="#f23645"/><rect x="569.2" y="305.8" width="2.5" height="7.4" fill="#f23645"/>
<rect x="573.05" y="303.8" width="1" height="15.8" fill="#4caf50"/><rect x="572.6" y="304.7" width="1.9" height="7" fill="#089981" stroke="#4caf50" stroke-width="0.6"/>
<rect x="576.16" y="289.2" width="1" height="15.2" fill="#f23645"/><rect x="575.41" y="290.3" width="2.5" height="3" fill="#f23645"/>
<rect x="579.26" y="281" width="1" height="6.4" fill="#4caf50"/><rect x="578.81" y="281.65" width="1.9" height="0.4" fill="#089981" stroke="#4caf50" stroke-width="0.6"/>
<rect x="582.36" y="274.5" width="1" height="12.3" fill="#4caf50"/><rect x="581.91" y="275.4" width="1.9" height="1.7" fill="#089981" stroke="#4caf50" stroke-width="0.6"/>
<rect x="585.47" y="263.4" width="1" height="9.4" fill="#f23645"/><rect x="584.72" y="266.3" width="2.5" height="2.4" fill="#f23645"/>
<rect x="588.57" y="251.7" width="1" height="9.3" fill="#4caf50"/><rect x="588.12" y="252.6" width="1.9" height="7.6" fill="#089981" stroke="#4caf50" stroke-width="0.6"/>
<rect x="591.68" y="244.9" width="1" height="8.8" fill="#4caf50"/><rect x="591.23" y="248.7" width="1.9" height="2.9" fill="#089981" stroke="#4caf50" stroke-width="0.6"/>
<rect x="594.78" y="237.9" width="1" height="8.7" fill="#4caf50"/><rect x="594.33" y="238.7" width="1.9" height="3.5" fill="#089981" stroke="#4caf50" stroke-width="0.6"/>
<rect x="597.88" y="231.4" width="1" height="10.6" fill="#4caf50"/><rect x="597.43" y="234" width="1.9" height="0.4" fill="#089981" stroke="#4caf50" stroke-width="0.6"/>
<rect x="600.99" y="219.1" width="1" height="22.9" fill="#4caf50"/><rect x="600.54" y="225.9" width="1.9" height="5.8" fill="#089981" stroke="#4caf50" stroke-width="0.6"/>
<rect x="604.09" y="189.8" width="1" height="20.5" fill="#4caf50"/><rect x="603.64" y="196" width="1.9" height="8.2" fill="#089981" stroke="#4caf50" stroke-width="0.6"/>
<rect x="607.2" y="184" width="1" height="15.8" fill="#4caf50"/><rect x="606.75" y="185.4" width="1.9" height="13.5" fill="#089981" stroke="#4caf50" stroke-width="0.6"/>
<rect x="610.3" y="171.7" width="1" height="22.2" fill="#4caf50"/><rect x="609.85" y="173.7" width="1.9" height="14.7" fill="#089981" stroke="#4caf50" stroke-width="0.6"/>
<rect x="613.4" y="163.5" width="1" height="19.3" fill="#f23645"/><rect x="612.65" y="168.7" width="2.5" height="4.7" fill="#f23645"/>
<rect x="616.51" y="170.5" width="1" height="18.2" fill="#f23645"/><rect x="615.76" y="171.1" width="2.5" height="9.9" fill="#f23645"/>
<rect x="619.61" y="185.1" width="1" height="23.5" fill="#4caf50"/><rect x="619.16" y="189" width="1.9" height="9.9" fill="#089981" stroke="#4caf50" stroke-width="0.6"/>
<rect x="622.72" y="182.8" width="1" height="15.8" fill="#f23645"/><rect x="621.97" y="190.85" width="2.5" height="1" fill="#f23645"/>
<rect x="625.82" y="178.7" width="1" height="17" fill="#f23645"/><rect x="625.07" y="179.3" width="2.5" height="14" fill="#f23645"/>
<rect x="628.92" y="188.7" width="1" height="11.7" fill="#4caf50"/><rect x="628.47" y="189.5" width="1.9" height="3.5" fill="#089981" stroke="#4caf50" stroke-width="0.6"/>
<rect x="632.03" y="168.7" width="1" height="27" fill="#4caf50"/><rect x="631.58" y="170.2" width="1.9" height="24.6" fill="#089981" stroke="#4caf50" stroke-width="0.6"/>
<rect x="635.13" y="142.9" width="1" height="15.2" fill="#4caf50"/><rect x="634.68" y="143.8" width="1.9" height="11.7" fill="#089981" stroke="#4caf50" stroke-width="0.6"/>
<rect x="638.24" y="121.2" width="1" height="19.4" fill="#4caf50"/><rect x="637.79" y="132.1" width="1.9" height="1.1" fill="#089981" stroke="#4caf50" stroke-width="0.6"/>
<rect x="641.34" y="97.8" width="1" height="18.2" fill="#4caf50"/><rect x="640.89" y="106.9" width="1.9" height="8.2" fill="#089981" stroke="#4caf50" stroke-width="0.6"/>
<rect x="644.44" y="94.9" width="1" height="39.8" fill="#f23645"/><rect x="643.69" y="95.5" width="2.5" height="29.2" fill="#f23645"/>
<rect x="647.55" y="108.9" width="1" height="12.3" fill="#4caf50"/><rect x="647.1" y="110.4" width="1.9" height="6.4" fill="#089981" stroke="#4caf50" stroke-width="0.6"/>
<rect x="650.65" y="109.5" width="1" height="14.7" fill="#4caf50"/><rect x="650.2" y="110.2" width="1.9" height="0.4" fill="#089981" stroke="#4caf50" stroke-width="0.6"/>
<rect x="653.76" y="106.6" width="1" height="69.1" fill="#f23645"/><rect x="653.01" y="107.4" width="2.5" height="68.3" fill="#f23645"/>
<rect x="656.86" y="113" width="1" height="34.6" fill="#4caf50"/><rect x="656.41" y="113.6" width="1.9" height="25.5" fill="#089981" stroke="#4caf50" stroke-width="0.6"/>
<rect x="659.96" y="104.2" width="1" height="41.6" fill="#4caf50"/><rect x="659.51" y="122.1" width="1.9" height="11.1" fill="#089981" stroke="#4caf50" stroke-width="0.6"/>
<rect x="663.07" y="93.7" width="1" height="37.5" fill="#f23645"/><rect x="662.32" y="94.3" width="2.5" height="13.5" fill="#f23645"/>
<rect x="666.17" y="97.8" width="1" height="37.5" fill="#f23645"/><rect x="665.42" y="98.4" width="2.5" height="30.4" fill="#f23645"/>
<rect x="669.28" y="128.8" width="1" height="21.7" fill="#4caf50"/><rect x="668.83" y="134.4" width="1.9" height="4.7" fill="#089981" stroke="#4caf50" stroke-width="0.6"/>
<rect x="672.38" y="108.9" width="1" height="17" fill="#f23645"/><rect x="671.63" y="117.7" width="2.5" height="5.3" fill="#f23645"/>
<rect x="675.48" y="121.2" width="1" height="14.1" fill="#f23645"/><rect x="674.73" y="124.7" width="2.5" height="7.1" fill="#f23645"/>
<rect x="678.59" y="137.6" width="1" height="42.2" fill="#f23645"/><rect x="677.84" y="141.7" width="2.5" height="22.3" fill="#f23645"/>
<rect x="681.69" y="128.8" width="1" height="21.7" fill="#4caf50"/><rect x="681.24" y="131.5" width="1.9" height="18.7" fill="#089981" stroke="#4caf50" stroke-width="0.6"/>
<rect x="684.8" y="105.4" width="1" height="14.1" fill="#f23645"/><rect x="684.05" y="113" width="2.5" height="5.9" fill="#f23645"/>
<rect x="687.9" y="88.4" width="1" height="12.9" fill="#4caf50"/><rect x="687.45" y="95.2" width="1.9" height="5.2" fill="#089981" stroke="#4caf50" stroke-width="0.6"/>
<rect x="691" y="85.5" width="1" height="18.4" fill="#f23645"/><rect x="690.25" y="94.9" width="2.5" height="8.8" fill="#f23645"/>
<rect x="694.11" y="79.6" width="1" height="20" fill="#4caf50"/><rect x="693.66" y="87" width="1.9" height="4.1" fill="#089981" stroke="#4caf50" stroke-width="0.6"/>
<rect x="697.21" y="83.2" width="1" height="17.5" fill="#4caf50"/><rect x="696.76" y="93.8" width="1.9" height="0.4" fill="#089981" stroke="#4caf50" stroke-width="0.6"/>
<rect x="700.32" y="74.4" width="1" height="20.5" fill="#4caf50"/><rect x="699.87" y="79.4" width="1.9" height="2.9" fill="#089981" stroke="#4caf50" stroke-width="0.6"/>
<rect x="703.42" y="72" width="1" height="29.9" fill="#f23645"/><rect x="702.67" y="72.6" width="2.5" height="18.8" fill="#f23645"/>
<rect x="706.52" y="107.8" width="1" height="31" fill="#f23645"/><rect x="705.77" y="120.6" width="2.5" height="15.9" fill="#f23645"/>
<rect x="709.63" y="106" width="1" height="26.4" fill="#4caf50"/><rect x="709.18" y="114.5" width="1.9" height="17" fill="#089981" stroke="#4caf50" stroke-width="0.6"/>
<rect x="712.73" y="106" width="1" height="29.9" fill="#f23645"/><rect x="711.98" y="110.1" width="2.5" height="18.7" fill="#f23645"/>
<rect x="715.84" y="131.5" width="1" height="37.8" fill="#4caf50"/><rect x="715.39" y="131.8" width="1.9" height="15.5" fill="#089981" stroke="#4caf50" stroke-width="0.6"/>
</g>
<line x1="65" x2="771.5" y1="131.3" y2="131.3" stroke="#4caf50" stroke-width="1" stroke-dasharray="1 1.8"/>
<line x1="9.5" x2="771.5" y1="692.7" y2="692.7" stroke="#555862" stroke-width="1.3"/>
<line x1="9.5" x2="771.5" y1="942.4" y2="942.4" stroke="#8f929c" stroke-width="1.2"/>
<line x1="64.5" x2="64.5" y1="25" y2="968" stroke="#878a94" stroke-width="1.2"/>
<rect x="12.9" y="28.5" width="48.6" height="24.2" rx="4" fill="#fff" stroke="#eef0f4" stroke-width="1"/>
<text x="20.8" y="45.1" font-size="11.4" textLength="24" lengthAdjust="spacingAndGlyphs" fill="#131722">USD</text>
<text x="56.8" y="73.47" font-size="11.4" text-anchor="end" textLength="38.3" lengthAdjust="spacingAndGlyphs" fill="#5d606b">116.00</text>
<text x="56.8" y="116.62" font-size="11.4" text-anchor="end" textLength="38.3" lengthAdjust="spacingAndGlyphs" fill="#5d606b">112.00</text>
<text x="56.8" y="159.78" font-size="11.4" text-anchor="end" textLength="38.3" lengthAdjust="spacingAndGlyphs" fill="#5d606b">108.00</text>
<text x="56.8" y="202.93" font-size="11.4" text-anchor="end" textLength="38.3" lengthAdjust="spacingAndGlyphs" fill="#5d606b">104.00</text>
<text x="56.8" y="246.08" font-size="11.4" text-anchor="end" textLength="38.3" lengthAdjust="spacingAndGlyphs" fill="#5d606b">100.00</text>
<text x="56.8" y="289.23" font-size="11.4" text-anchor="end" textLength="31.6" lengthAdjust="spacingAndGlyphs" fill="#5d606b">96.00</text>
<text x="56.8" y="332.38" font-size="11.4" text-anchor="end" textLength="31.6" lengthAdjust="spacingAndGlyphs" fill="#5d606b">92.00</text>
<text x="56.8" y="375.54" font-size="11.4" text-anchor="end" textLength="31.6" lengthAdjust="spacingAndGlyphs" fill="#5d606b">88.00</text>
<text x="56.8" y="418.69" font-size="11.4" text-anchor="end" textLength="31.6" lengthAdjust="spacingAndGlyphs" fill="#5d606b">84.00</text>
<text x="56.8" y="461.84" font-size="11.4" text-anchor="end" textLength="31.6" lengthAdjust="spacingAndGlyphs" fill="#5d606b">80.00</text>
<text x="56.8" y="504.99" font-size="11.4" text-anchor="end" textLength="31.6" lengthAdjust="spacingAndGlyphs" fill="#5d606b">76.00</text>
<text x="56.8" y="548.14" font-size="11.4" text-anchor="end" textLength="31.6" lengthAdjust="spacingAndGlyphs" fill="#5d606b">72.00</text>
<text x="56.8" y="591.3" font-size="11.4" text-anchor="end" textLength="31.6" lengthAdjust="spacingAndGlyphs" fill="#5d606b">68.00</text>
<text x="56.8" y="634.45" font-size="11.4" text-anchor="end" textLength="31.6" lengthAdjust="spacingAndGlyphs" fill="#5d606b">64.00</text>
<text x="56.8" y="677.6" font-size="11.4" text-anchor="end" textLength="31.6" lengthAdjust="spacingAndGlyphs" fill="#5d606b">60.00</text>
<path d="M16 123.7 H64.5 V139.4 H16 Q13 139.4 13 136.4 V126.7 Q13 123.7 16 123.7 Z" fill="#4caf50"/>
<text x="18.5" y="135.6" font-size="11.4" textLength="37.6" lengthAdjust="spacingAndGlyphs" fill="#fff">110.24</text>
<text x="72.4" y="45.8" font-size="11.5" textLength="200.3" lengthAdjust="spacingAndGlyphs" fill="#6a6d78">Defiance Quantum ETF · 1D · NASDAQ</text>
<text x="278.1" y="45.8" font-size="11.5" textLength="34.1" lengthAdjust="spacingAndGlyphs" fill="#f23645">110.24</text>
<text x="318.6" y="45.8" font-size="11.5" textLength="28.8" lengthAdjust="spacingAndGlyphs" fill="#f23645">−0.18</text>
<text x="350.7" y="45.8" font-size="11.5" textLength="47.6" lengthAdjust="spacingAndGlyphs" fill="#f23645">(−0.16%)</text>
<text x="72.6" y="713.9" font-size="11.4" textLength="16.2" lengthAdjust="spacingAndGlyphs" fill="#5d606b">Vol</text>
<text x="116.9" y="959.8" font-size="11.2" font-weight="bold" text-anchor="middle" fill="#6a6d78" clip-path="url(#tclip)">Feb</text>
<text x="175.88" y="959.8" font-size="11.2" font-weight="bold" text-anchor="middle" fill="#6a6d78" clip-path="url(#tclip)">Mar</text>
<text x="241.06" y="959.8" font-size="11.2" font-weight="bold" text-anchor="middle" fill="#6a6d78" clip-path="url(#tclip)">Apr</text>
<text x="306.25" y="959.8" font-size="11.2" font-weight="bold" text-anchor="middle" fill="#6a6d78" clip-path="url(#tclip)">May</text>
<text x="371.43" y="959.8" font-size="11.2" font-weight="bold" text-anchor="middle" fill="#6a6d78" clip-path="url(#tclip)">Jun</text>
<text x="433.51" y="959.8" font-size="11.2" font-weight="bold" text-anchor="middle" fill="#6a6d78" clip-path="url(#tclip)">Jul</text>
<text x="501.8" y="959.8" font-size="11.2" font-weight="bold" text-anchor="middle" fill="#6a6d78" clip-path="url(#tclip)">Aug</text>
<text x="566.98" y="959.8" font-size="11.2" font-weight="bold" text-anchor="middle" fill="#6a6d78" clip-path="url(#tclip)">Sep</text>
<text x="632.17" y="959.8" font-size="11.2" font-weight="bold" text-anchor="middle" fill="#6a6d78" clip-path="url(#tclip)">Oct</text>
<text x="703.56" y="959.8" font-size="11.2" font-weight="bold" text-anchor="middle" fill="#6a6d78" clip-path="url(#tclip)">Nov</text>
<text x="762.54" y="959.8" font-size="11.2" font-weight="bold" text-anchor="middle" fill="#6a6d78" clip-path="url(#tclip)">Dec</text>
<defs><clipPath id="tclip"><rect x="64.5" y="942.4" width="707" height="25.6"/></clipPath></defs>
<svg x="10.7" y="985.6" width="27.4" height="21.3" viewBox="0 0 36 28"><path fill="#131722" d="M14 22H7V11H0V4h14v18zM28 22h-8l7.5-18h8L28 22z"/><circle fill="#131722" cx="20" cy="8" r="4"/></svg>
<text x="46" y="1002.1" font-size="19" font-weight="bold" fill="#131722">TradingView</text>
</svg>
</body></html>
